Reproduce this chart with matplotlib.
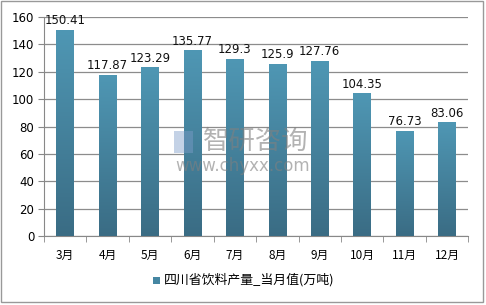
import numpy as np
import matplotlib.pyplot as plt
from matplotlib.patches import Rectangle
from matplotlib.colors import LinearSegmentedColormap

plt.rcParams['font.family'] = ['Noto Sans CJK SC', 'DejaVu Sans']

months = ["3月", "4月", "5月", "6月", "7月", "8月", "9月", "10月", "11月", "12月"]
values = [150.41, 117.87, 123.29, 135.77, 129.3, 125.9, 127.76, 104.35, 76.73, 83.06]
series_name = "四川省饮料产量_当月值(万吨)"
y_ticks = [0, 20, 40, 60, 80, 100, 120, 140, 160]

fig = plt.figure(figsize=(4.86, 3.05), dpi=100)
ax = fig.add_axes([0.0905, 0.226, 0.873, 0.718])

x = np.arange(len(months))
bar_w = 0.41
cmap = LinearSegmentedColormap.from_list("bar", ["#3a6c84", "#4f97b4"])
grad = np.linspace(0, 1, 256).reshape(-1, 1)

bars = ax.bar(x, values, width=bar_w, color="#4586a2", zorder=2)
for b in bars:
    im = ax.imshow(grad, cmap=cmap, origin="lower", aspect="auto",
                   extent=[b.get_x(), b.get_x() + b.get_width(), 0, b.get_height()],
                   zorder=3)
    im.set_clip_path(b)

for xi, v in zip(x, values):
    ax.text(xi, v + 2, f"{v:g}", ha="center", va="bottom", fontsize=8.5,
            family="DejaVu Sans", color="#111111", zorder=5)

ax.set_xlim(-0.5, len(months) - 0.5)
ax.set_ylim(0, 160)
ax.set_yticks(y_ticks)
ax.set_yticklabels([str(t) for t in y_ticks], fontsize=8.5, family="DejaVu Sans")
ax.set_xticks(x)
ax.set_xticklabels(months, fontsize=8.5)
ax.set_xticks(np.arange(-0.5, len(months)), minor=True)
ax.tick_params(axis="x", which="major", length=0, pad=9)
ax.tick_params(axis="x", which="minor", length=4, color="#888888")
ax.tick_params(axis="y", length=4, color="#888888", pad=3)
ax.grid(axis="y", color="#8c8c8c", linewidth=0.9, zorder=0)
ax.set_axisbelow(True)
for s in ["top", "right"]:
    ax.spines[s].set_visible(False)
for s in ["left", "bottom"]:
    ax.spines[s].set_color("#888888")

# watermark
fig.patches.append(Rectangle((0.357, 0.498), 0.04, 0.072, transform=fig.transFigure,
                             facecolor="#7d9cc9", edgecolor="none", alpha=0.45, zorder=10))
fig.text(0.527, 0.537, "智研咨询", fontsize=19, color="#808080", alpha=0.6,
         ha="center", va="center", zorder=10)
fig.text(0.5, 0.456, "www.chyxx.com", fontsize=12, color="#808080", alpha=0.6,
         ha="center", va="center", family="DejaVu Sans", zorder=10)

# legend
fig.patches.append(Rectangle((0.315, 0.068), 0.0145, 0.024, transform=fig.transFigure,
                             facecolor="#4586a2", edgecolor="none"))
fig.text(0.337, 0.082, series_name, fontsize=9.3, va="center", ha="left")

fig.patches.append(Rectangle((0.002, 0.01), 0.992, 0.986, transform=fig.transFigure,
                             facecolor="none", edgecolor="#999999", linewidth=1))

fig.savefig("out.png", dpi=100)
